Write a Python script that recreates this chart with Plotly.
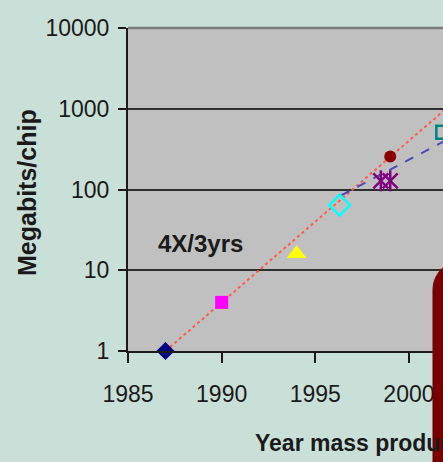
import plotly.graph_objects as go

# ---- data ----
years = [1987, 1990, 1994, 1996.3, 1999, 2001.81]
mbits = [1, 4, 16, 64, 256, 512]
symbols = ["diamond", "square", "triangle-up", "diamond-open", "circle", "square-open"]
colors = ["#000080", "#ff00ff", "#ffff00", "#00ffff", "#8b0000", "#008080"]
sizes = [14, 13, 17, 16, 12, 13]

star_years = [1998.5, 1999]
star_vals = [128, 128]

trend4x_years = [1987, 2003]
trend4x_vals = [1, 1600]
trend2_years = [1996.4, 2002]
trend2_vals = [85, 410]

x_ticks = [1985, 1990, 1995, 2000]
y_ticks = [1, 10, 100, 1000, 10000]

# ---- layout in pixels ----
W, H = 443, 462
L, R, T, B = 128, 0, 28, 111
PW, PH = W - L - R, H - T - B
X_MAX = 1985 + PW / 18.73

def px(x):
    return (x - L) / PW

def py(y):
    return (H - B - y) / PH

fig = go.Figure()
fig.add_trace(go.Scatter(x=trend4x_years, y=trend4x_vals, mode="lines",
                         line=dict(color="#ff5a4a", width=2, dash="dot"),
                         hoverinfo="skip"))
fig.add_trace(go.Scatter(x=trend2_years, y=trend2_vals, mode="lines",
                         line=dict(color="#4a4ab8", width=2, dash="dash"),
                         hoverinfo="skip"))
for i, (xv, yv, s, c, sz) in enumerate(zip(years, mbits, symbols, colors, sizes)):
    open_ = s.endswith("open")
    fig.add_trace(go.Scatter(
        x=[xv], y=[yv], mode="markers", cliponaxis=False,
        marker=dict(symbol=s, size=sz, color=c,
                    line=dict(color=c, width=2.5 if open_ else 0))))
# Excel-style star: X plus vertical bar
for sym in ["x-thin-open", "line-ns-open"]:
    fig.add_trace(go.Scatter(
        x=star_years, y=star_vals, mode="markers",
        marker=dict(symbol=sym, size=15, color="#800080",
                    line=dict(color="#800080", width=2.5))))

tickfont = dict(family="Liberation Sans, Arial", size=23, color="#1a1a1a")

fig.update_layout(
    width=W, height=H, showlegend=False,
    margin=dict(l=L, r=R, t=T, b=B, pad=0),
    paper_bgcolor="#c9e0d8", plot_bgcolor="#c0c0c0",
    xaxis=dict(range=[1985, X_MAX], tickvals=x_ticks,
               ticks="outside", ticklen=10, tickwidth=2, tickcolor="#1a1a1a",
               showline=True, linecolor="#1a1a1a", linewidth=2,
               showgrid=False, zeroline=False, tickfont=tickfont,
               ticklabelstandoff=11),
    yaxis=dict(type="log", range=[0, 4], tickvals=y_ticks,
               ticktext=[str(v) for v in y_ticks],
               ticks="outside", ticklen=8, tickwidth=2, tickcolor="#1a1a1a",
               showline=True, linecolor="#1a1a1a", linewidth=2,
               showgrid=True, gridcolor="#2e2e2e", gridwidth=1.5,
               zeroline=False, tickfont=tickfont, ticklabelstandoff=4),
)

# top border of plot area (gray)
fig.add_shape(type="line", xref="paper", yref="paper", x0=0, x1=1, y0=1, y1=1,
              line=dict(color="#7a7a7a", width=2.5), layer="above")

fig.add_annotation(x=1986.5, y=1.33, xref="x", yref="y", text="<b>4X/3yrs</b>",
                   showarrow=False, xanchor="left", yanchor="middle",
                   font=dict(family="Liberation Sans, Arial", size=24, color="#1a1a1a"))
fig.add_annotation(x=px(27), y=py(192), xref="paper", yref="paper",
                   text="<b>Megabits/chip</b>", textangle=-90, showarrow=False,
                   xanchor="center", yanchor="middle",
                   font=dict(family="Liberation Sans, Arial", size=25, color="#1a1a1a"))
fig.add_annotation(x=px(253), y=py(443), xref="paper", yref="paper",
                   text="<b>Year mass production</b>", showarrow=False,
                   xanchor="left", yanchor="middle",
                   font=dict(family="Liberation Sans, Arial", size=23, color="#1a1a1a"))

# dark red rounded box overlapping bottom-right
x0, y0, r = 433, 260, 30
k = 0.552 * r
path = (f"M {px(x0)},{py(H + 5)} L {px(x0)},{py(y0 + r)} "
        f"C {px(x0)},{py(y0 + r - k)} {px(x0 + r - k)},{py(y0)} {px(x0 + r)},{py(y0)} "
        f"L {px(W + 20)},{py(y0)} L {px(W + 20)},{py(H + 5)} Z")
fig.add_shape(type="path", xref="paper", yref="paper", path=path,
              fillcolor="#7a0000", line=dict(color="#6a0000", width=1), layer="above")

fig.write_html("out.html", config={"displayModeBar": False},
               post_script="document.body.style.margin='0';document.body.style.overflow='hidden';")
